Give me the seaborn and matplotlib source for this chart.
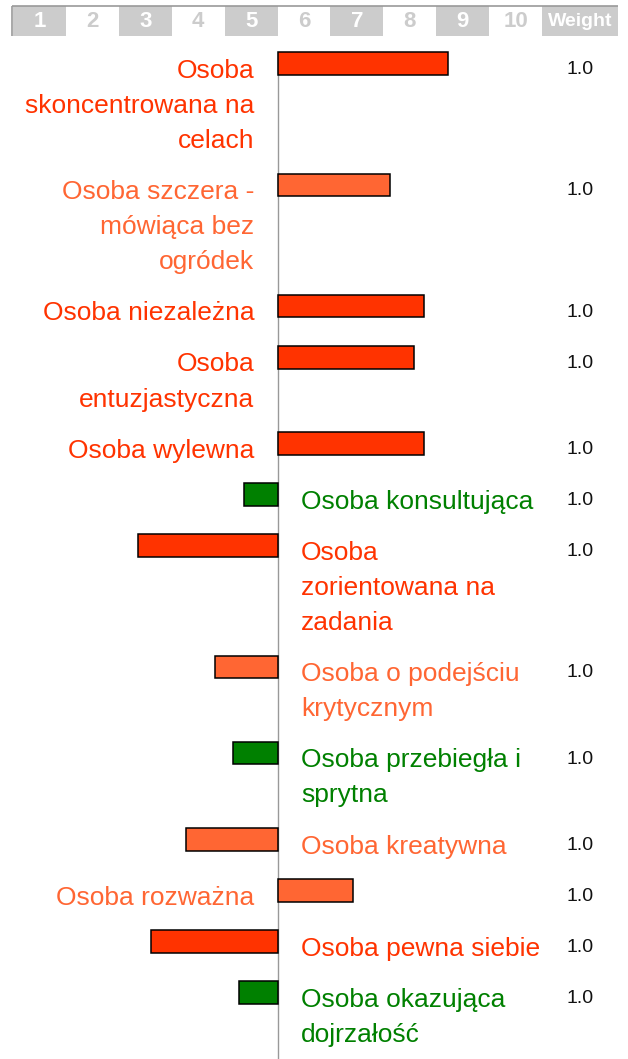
import numpy as np
import pandas as pd
import seaborn as sns
import matplotlib.pyplot as plt
plt.switch_backend('agg')

# ---------------------------- data ----------------------------
labels = [
    'Osoba\nskoncentrowana na\ncelach',
    'Osoba szczera -\nmówiąca bez\nogródek',
    'Osoba niezależna',
    'Osoba\nentuzjastyczna',
    'Osoba wylewna',
    'Osoba konsultująca',
    'Osoba\nzorientowana na\nzadania',
    'Osoba o podejściu\nkrytycznym',
    'Osoba przebiegła i\nsprytna',
    'Osoba kreatywna',
    'Osoba rozważna',
    'Osoba pewna siebie',
    'Osoba okazująca\ndojrzałość',
]
scores = [8.73, 7.63, 8.27, 8.08, 8.27, 4.86, 2.86, 4.31, 4.66, 3.77, 6.93, 3.11, 4.77]
tones = ['strong', 'mild', 'strong', 'strong', 'strong', 'good', 'strong',
         'mild', 'good', 'mild', 'mild', 'strong', 'good']
weights = [1.0, 1.0, 1.0, 1.0, 1.0, 1.0, 1.0, 1.0, 1.0, 1.0, 1.0, 1.0, 1.0]
scale_ticks = ['1', '2', '3', '4', '5', '6', '7', '8', '9', '10']
weight_title = 'Weight'

tone_colors = {'strong': '#FF3300', 'mild': '#FF6633', 'good': '#008000'}

# ---------------------------- layout ----------------------------
W, H = 628, 1059
UNIT = 52.9          # px per scale step
AXIS_PX = 277.5      # pixel x of the midpoint (5.5)
MID = 5.5
LINE = 35.1
GAP = 16.0
FIRST_TOP = 52.3
BAR_H = 22.5


def px2x(px):
    return (px - AXIS_PX) / UNIT


sns.set_theme(style='white')
plt.rcParams['font.family'] = ['Liberation Sans', 'DejaVu Sans']

fig = plt.figure(figsize=(W / 100, H / 100), dpi=100)
ax = fig.add_axes([0, 0, 1, 1])

n_lines = [lab.count('\n') + 1 for lab in labels]
tops = [FIRST_TOP]
for n in n_lines[:-1]:
    tops.append(tops[-1] + n * LINE + GAP)

df = pd.DataFrame({'label': labels, 'score': scores, 'tone': tones, 'weight': weights})
df['dev'] = df['score'] - MID
df['ypos'] = np.array(tops) + BAR_H / 2
min_step = np.diff(np.sort(df['ypos'].values)).min()

sns.barplot(data=df, x='dev', y='ypos', hue='tone', palette=tone_colors, orient='y',
            native_scale=True, dodge=False, width=BAR_H / min_step, errorbar=None,
            edgecolor='black', linewidth=1.1, saturation=1, legend=False, ax=ax)

# labels on the opposite side of the bar
for top, lab, dev, tone in zip(tops, df['label'], df['dev'], df['tone']):
    for k, line in enumerate(lab.split('\n')):
        if dev >= 0:
            ax.text(px2x(254.5), top + 25.4 + k * LINE, line, ha='right', va='baseline',
                    fontsize=19, color=tone_colors[tone])
        else:
            ax.text(px2x(301), top + 25.4 + k * LINE, line, ha='left', va='baseline',
                    fontsize=19, color=tone_colors[tone])

# weight column
w_left, w_right = px2x(541.7), px2x(618)
for top, w in zip(tops, df['weight']):
    ax.text((w_left + w_right) / 2, top + 21.7, '%.1f' % w, ha='center', va='baseline',
            fontsize=14, color='#111111')

# header strip
cell_x = [i + 1 - MID for i in range(len(scale_ticks))]
cell_bg = ['#CCCCCC' if i % 2 == 0 else 'white' for i in range(len(scale_ticks))]
ax.bar(cell_x, 30, bottom=6, width=1.0, color=cell_bg, linewidth=0)
ax.bar((w_left + w_right) / 2, 30, bottom=6, width=w_right - w_left, color='#CCCCCC', linewidth=0)
for x, t, bg in zip(cell_x, scale_ticks, cell_bg):
    ax.text(x, 21.5, t, ha='center', va='center', fontsize=16, fontweight='bold',
            color='white' if bg != 'white' else '#CCCCCC')
ax.text((w_left + w_right) / 2, 21.5, weight_title, ha='center', va='center', fontsize=14,
        fontweight='bold', color='white')
ax.hlines(6, px2x(12.3), w_right, color='#999999', linewidth=1.2)
ax.vlines(px2x(12.3), 6, 36, color='#999999', linewidth=1.2)

# midpoint axis
ax.vlines(0, FIRST_TOP - 0.5, H, color='#999999', linewidth=1.0, zorder=0.5)

ax.set_xlim(px2x(0), px2x(W))
ax.set_ylim(H, 0)
ax.axis('off')

plt.savefig('out.png', dpi=100)
plt.close()
